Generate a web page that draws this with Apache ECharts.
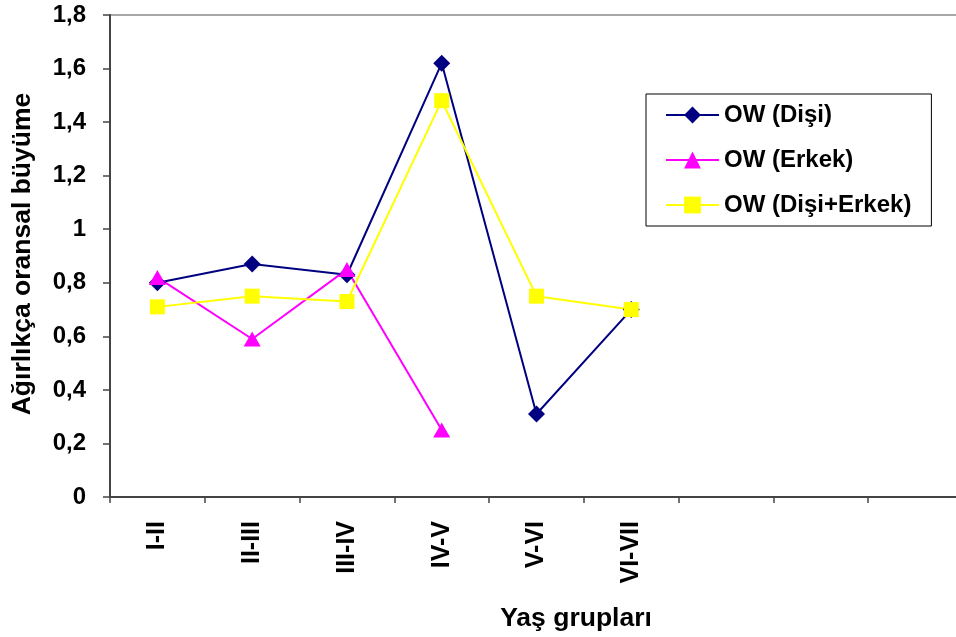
<!DOCTYPE html>
<html>
<head>
<meta charset="utf-8">
<script src="https://cdn.jsdelivr.net/npm/echarts@6/dist/echarts.min.js"></script>
<style>
html,body{margin:0;padding:0;background:#fff;}
#c{width:956px;height:637px;}
</style>
</head>
<body>
<div id="c"></div>
<script>
const categories = ['I-II', 'II-III', 'III-IV', 'IV-V', 'V-VI', 'VI-VII', '', '', ''];
const disi = [0.80, 0.87, 0.83, 1.62, 0.31, 0.70];
const erkek = [0.82, 0.59, 0.85, 0.25];
const disiErkek = [0.71, 0.75, 0.73, 1.48, 0.75, 0.70];
const seriesNames = ['OW (Dişi)', 'OW (Erkek)', 'OW (Dişi+Erkek)'];
const yTicks = { min: 0, max: 1.8, interval: 0.2 };

const FONT = '"Liberation Sans", Arial, sans-serif';
const chart = echarts.init(document.getElementById('c'));
chart.setOption({
  animation: false,
  backgroundColor: '#fff',
  grid: {
    left: 110, top: 15, width: 853, height: 482,
    containLabel: false, outerBoundsMode: 'none',
    show: true, borderColor: '#8a8a8a', borderWidth: 1.5, backgroundColor: 'transparent'
  },
  legend: {
    orient: 'vertical',
    left: 646, top: 94,
    padding: [9, 20, 9, 19],
    borderColor: '#000', borderWidth: 1,
    itemWidth: 53, itemHeight: 21, itemGap: 21,
    textStyle: { fontFamily: FONT, fontWeight: 'bold', fontSize: 24, color: '#000', lineHeight: 24 },
    data: seriesNames
  },
  xAxis: {
    type: 'category',
    data: categories,
    boundaryGap: true,
    axisLine: { lineStyle: { color: '#444', width: 2 } },
    axisTick: { show: true, interval: 0, length: 6, lineStyle: { color: '#444', width: 1.5 } },
    axisLabel: {
      interval: 0, rotate: 90, margin: 24,
      fontFamily: FONT, fontWeight: 'bold', fontSize: 25, color: '#000'
    },
    splitLine: { show: false }
  },
  yAxis: {
    type: 'value',
    min: yTicks.min, max: yTicks.max, interval: yTicks.interval,
    axisLine: { show: true, lineStyle: { color: '#444', width: 2 } },
    axisTick: { show: true, length: 7, lineStyle: { color: '#444', width: 1.5 } },
    axisLabel: {
      margin: 24,
      fontFamily: FONT, fontWeight: 'bold', fontSize: 24, color: '#000',
      formatter: v => String(Math.round(v * 10) / 10).replace('.', ',')
    },
    splitLine: { show: false }
  },
  graphic: [
    {
      type: 'text', x: 576, y: 619,
      style: { text: 'Yaş grupları', font: 'bold 26.5px ' + FONT, fill: '#000', textAlign: 'center', textVerticalAlign: 'middle' }
    },
    {
      type: 'text', x: 23, y: 254, rotation: Math.PI / 2,
      style: { text: 'Ağırlıkça oransal büyüme', font: 'bold 26.5px ' + FONT, fill: '#000', textAlign: 'center', textVerticalAlign: 'middle' }
    }
  ],
  series: [
    {
      name: seriesNames[0], type: 'line', data: disi,
      symbol: 'diamond', symbolSize: 17,
      lineStyle: { color: '#000080', width: 2 },
      itemStyle: { color: '#000080' }
    },
    {
      name: seriesNames[1], type: 'line', data: erkek,
      symbol: 'triangle', symbolSize: [17, 15],
      lineStyle: { color: '#FF00FF', width: 2 },
      itemStyle: { color: '#FF00FF' }
    },
    {
      name: seriesNames[2], type: 'line', data: disiErkek,
      symbol: 'rect', symbolSize: 15,
      lineStyle: { color: '#FFFF00', width: 2 },
      itemStyle: { color: '#FFFF00' }
    }
  ]
});
</script>
</body>
</html>
